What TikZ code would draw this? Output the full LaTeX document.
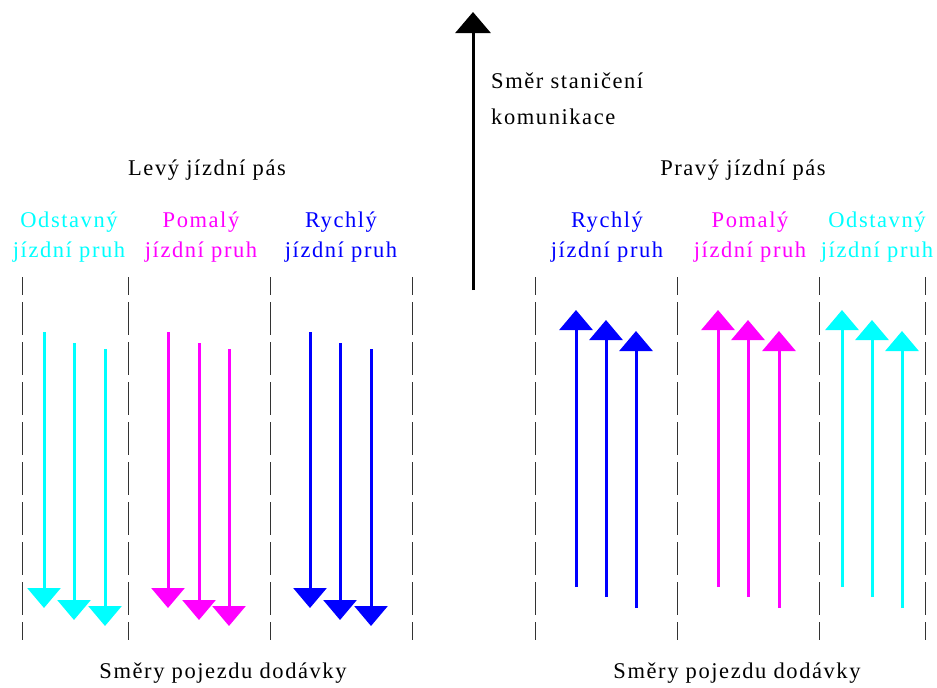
\documentclass[tikz,border=0pt]{standalone}
\usepackage{fontspec}
\setmainfont[LetterSpace=7]{Liberation Serif}
\usetikzlibrary{arrows.meta}
\definecolor{lcyan}{RGB}{0,255,255}
\definecolor{lmag}{RGB}{255,0,255}
\definecolor{lblue}{RGB}{0,0,255}
\tikzset{
  lbl/.style={inner sep=0pt,anchor=base,font=\fontsize{22.5}{29}\selectfont},
  divider/.style={draw=black!80,line width=0.9pt,dash pattern=on 33pt off 7pt,dash phase=15pt},
  lanearrow/.style={line width=3pt,-{Triangle[width=33pt,length=20pt]}},
  mainarrow/.style={line width=3pt,black,-{Triangle[width=35pt,length=21pt]}}
}
\begin{document}
\begin{tikzpicture}[x=1pt,y=-1pt]
\useasboundingbox (0,0) rectangle (937,688);
% main direction arrow
\coordinate (mA) at (473,290);
\coordinate (mB) at (473,12);
\draw[mainarrow] (mA) -- (mB);
\node[lbl,anchor=base west] (st1) at (491,88) {Směr staničení};
\node[lbl,anchor=base west] (st2) at (491,124) {komunikace};
% carriageway titles
\node[lbl] (levy) at (207,175) {Levý jízdní pás};
\node[lbl] (pravy) at (743,175) {Pravý jízdní pás};
% lane labels left
\node[lbl,text=lcyan] (lo1) at (69,227) {Odstavný};
\node[lbl,text=lcyan] (lo2) at (69,257) {jízdní pruh};
\node[lbl,text=lmag] (lp1) at (201,227) {Pomalý};
\node[lbl,text=lmag] (lp2) at (201,257) {jízdní pruh};
\node[lbl,text=lblue] (lr1) at (341,227) {Rychlý};
\node[lbl,text=lblue] (lr2) at (341,257) {jízdní pruh};
% lane labels right
\node[lbl,text=lblue] (rr1) at (607,227) {Rychlý};
\node[lbl,text=lblue] (rr2) at (607,257) {jízdní pruh};
\node[lbl,text=lmag] (rp1) at (750,227) {Pomalý};
\node[lbl,text=lmag] (rp2) at (750,257) {jízdní pruh};
\node[lbl,text=lcyan] (ro1) at (877,227) {Odstavný};
\node[lbl,text=lcyan] (ro2) at (877,257) {jízdní pruh};
% bottom captions
\node[lbl] (cl) at (223,678) {Směry pojezdu dodávky};
\node[lbl] (cr) at (737,678) {Směry pojezdu dodávky};
% dividers
\foreach \x [count=\i] in {22,128,270,412,535,677,819,925}{
  \coordinate (dt\i) at (\x,277);
  \coordinate (db\i) at (\x,640);
  \draw[divider] (dt\i) -- (db\i);
}
% left lanes: arrows downwards
\foreach \c/\xa/\xb/\xc in {lcyan/44/74/105, lmag/168/199/229, lblue/310/340/371}{
  \coordinate (\c s1) at (\xa,332); \coordinate (\c e1) at (\xa,608);
  \coordinate (\c s2) at (\xb,343); \coordinate (\c e2) at (\xb,620);
  \coordinate (\c s3) at (\xc,349); \coordinate (\c e3) at (\xc,626);
  \draw[lanearrow,\c] (\c s1) -- (\c e1);
  \draw[lanearrow,\c] (\c s2) -- (\c e2);
  \draw[lanearrow,\c] (\c s3) -- (\c e3);
}
% right lanes: arrows upwards
\foreach \c/\xa/\xb/\xc in {lblue/576/606/636, lmag/718/748/779, lcyan/842/872/902}{
  \coordinate (\c u1) at (\xa,587); \coordinate (\c t1) at (\xa,310);
  \coordinate (\c u2) at (\xb,597); \coordinate (\c t2) at (\xb,320);
  \coordinate (\c u3) at (\xc,608); \coordinate (\c t3) at (\xc,331);
  \draw[lanearrow,\c] (\c u1) -- (\c t1);
  \draw[lanearrow,\c] (\c u2) -- (\c t2);
  \draw[lanearrow,\c] (\c u3) -- (\c t3);
}
\end{tikzpicture}
\end{document}
